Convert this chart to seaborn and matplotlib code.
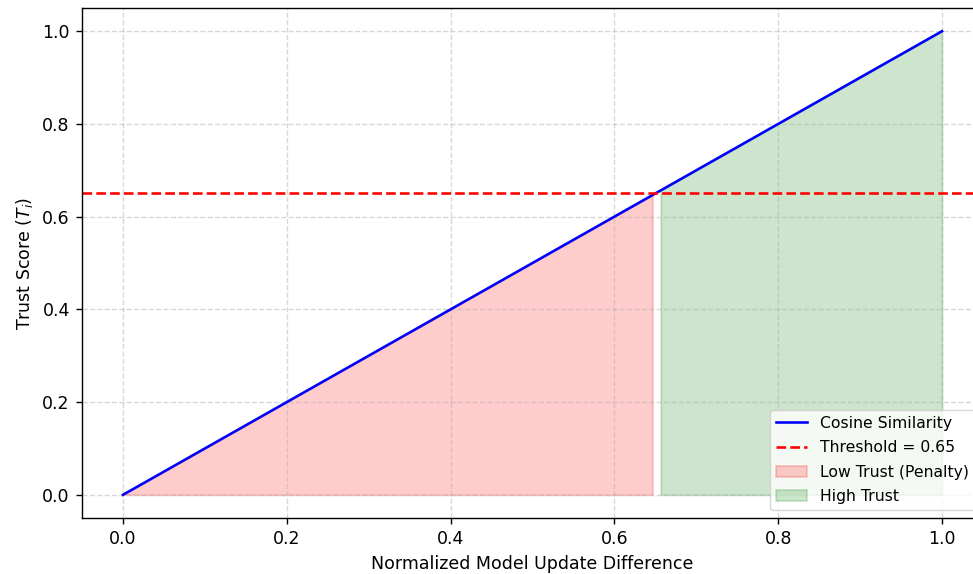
import numpy as np
import pandas as pd
import matplotlib
matplotlib.use("Agg")
import matplotlib.pyplot as plt
import seaborn as sns

# line from (0,0) to (1,1)
sim_x = [0.0, 1.0]
sim_y = [0.0, 1.0]
threshold = 0.65

# shaded regions (last/first sample either side of the threshold)
low_x = [0.0, 0.6465]
low_y = [0.0, 0.6465]
high_x = [0.6566, 1.0]
high_y = [0.6566, 1.0]

# original looks rendered at ~1.25x scale
s = 1.25
plt.rcParams.update({
    "font.size": 10 * s,
    "axes.linewidth": 0.8 * s,
    "xtick.major.size": 3.5 * s,
    "ytick.major.size": 3.5 * s,
    "xtick.major.width": 0.8 * s,
    "ytick.major.width": 0.8 * s,
    "xtick.major.pad": 3.5 * s,
    "ytick.major.pad": 3.5 * s,
    "axes.labelpad": 4.0 * s,
    "grid.linewidth": 0.8 * s,
    "legend.fontsize": 9 * s,
    "legend.labelspacing": 0.6,
})

fig = plt.figure(figsize=(9.73, 5.74), dpi=100)
ax = fig.add_axes([82 / 973, 56 / 574, (983 - 82) / 973, (518 - 8) / 574])

df = pd.DataFrame({"x": sim_x, "y": sim_y})
sns.lineplot(data=df, x="x", y="y", color="blue", linewidth=1.5 * s,
             label="Cosine Similarity", ax=ax)
ax.axhline(threshold, color="red", linestyle="--", linewidth=1.5 * s,
           label=f"Threshold = {threshold}")
ax.fill_between(low_x, 0, low_y, color="red", alpha=0.2, linewidth=s,
                label="Low Trust (Penalty)")
ax.fill_between(high_x, 0, high_y, color="green", alpha=0.2, linewidth=s,
                label="High Trust")

ax.set_xlim(-0.05, 1.05)
ax.set_ylim(-0.05, 1.05)
ax.set_xticks([0.0, 0.2, 0.4, 0.6, 0.8, 1.0])
ax.set_yticks([0.0, 0.2, 0.4, 0.6, 0.8, 1.0])
ax.set_xlabel("Normalized Model Update Difference")
ax.set_ylabel("Trust Score ($T_i$)")
ax.grid(True, linestyle="--", alpha=0.5)
ax.legend(loc="lower right")

fig.savefig("out.png", dpi=100)
